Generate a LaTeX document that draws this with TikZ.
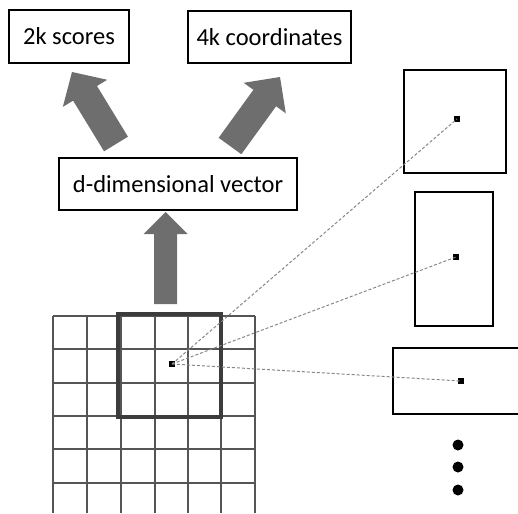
\documentclass[tikz,border=0pt]{standalone}
\usepackage{fontspec}
\setmainfont{Carlito}
\usetikzlibrary{calc}

\definecolor{arrowgray}{RGB}{110,110,110}
\definecolor{gridgray}{RGB}{85,85,85}
\definecolor{wingray}{RGB}{60,60,60}
\definecolor{dashgray}{RGB}{135,135,135}

% block arrow from #1 to #2: shaft half-width #3, head half-width #4, head length #5
\newcommand\blockarrow[5]{%
  \coordinate (ba-h) at ($(#2)!#5!(#1)$);
  \fill[arrowgray]
    ($(#1)!#3!90:(#2)$) -- ($(ba-h)!#3!90:(#2)$) -- ($(ba-h)!#4!90:(#2)$) --
    (#2) --
    ($(ba-h)!#4!-90:(#2)$) -- ($(ba-h)!#3!-90:(#2)$) -- ($(#1)!#3!-90:(#2)$) -- cycle;
}

\begin{document}
\begin{tikzpicture}[x=1pt,y=-1pt,
  textbox/.style={draw=black, line width=1.6pt, fill=white, inner sep=0pt,
    font=\fontsize{24.5}{29}\selectfont},
  anchorbox/.style={draw=black, line width=2.8pt, inner sep=0pt},
  gridline/.style={draw=gridgray, line width=1.6pt},
  window/.style={draw=wingray, line width=3.5pt, inner sep=0pt, minimum size=103pt},
  center/.style={fill=black, inner sep=0pt, minimum size=6pt},
  dashline/.style={draw=dashgray, line width=1pt, dash pattern=on 3pt off 2pt},
  ellip/.style={circle, fill=black, inner sep=0pt, minimum size=11pt}]

\useasboundingbox (0,0) rectangle (518,513);

% output boxes
\node[textbox, minimum width=120pt, minimum height=53pt] (scores) at (69,36.5) {2k scores};
\node[textbox, minimum width=163pt, minimum height=52pt] (coords) at (269.5,37) {4k coordinates};
\node[textbox, minimum width=238pt, minimum height=52pt] (vec) at (178,184) {d-dimensional vector};

% feature map grid
\foreach \x in {53,87,121,155,188,221,255}
  \draw[gridline] (\x,316) -- (\x,513);
\foreach \y in {316,349,383,416,449,483}
  \draw[gridline] (53,\y) -- (255,\y);

% sliding window and its centre
\node[window] (win) at (169.5,365.5) {};

% anchor boxes
\node[anchorbox, minimum width=102pt, minimum height=103pt] (r1) at (455,121.5) {};
\node[anchorbox, minimum width=78pt, minimum height=134pt] (r2) at (454,259) {};
\node[anchorbox, minimum width=150pt, minimum height=66pt] (r3) at (468,381) {};
\node[center] (d1) at (457,119) {};
\node[center] (d2) at (456,257) {};
\node[center] (d3) at (461,381) {};

\node[center] (anc) at (172,364) {};
\draw[dashline] (anc.center) -- (d1.center);
\draw[dashline] (anc.center) -- (d2.center);
\draw[dashline] (anc.center) -- (d3.center);

% more anchors
\node[ellip] (e1) at (458,445) {};
\node[ellip] (e2) at (458,467) {};
\node[ellip] (e3) at (458,490) {};

% block arrows
\coordinate (upS) at (165.5,304);
\coordinate (upT) at (165.5,212);
\blockarrow{upS}{upT}{11.5pt}{22pt}{22pt}
\coordinate (lS) at (116,144);
\coordinate (lT) at (72,72);
\blockarrow{lS}{lT}{14pt}{26pt}{25pt}
\coordinate (rS) at (230,146);
\coordinate (rT) at (280,77);
\blockarrow{rS}{rT}{14pt}{26pt}{26pt}

\end{tikzpicture}
\end{document}
